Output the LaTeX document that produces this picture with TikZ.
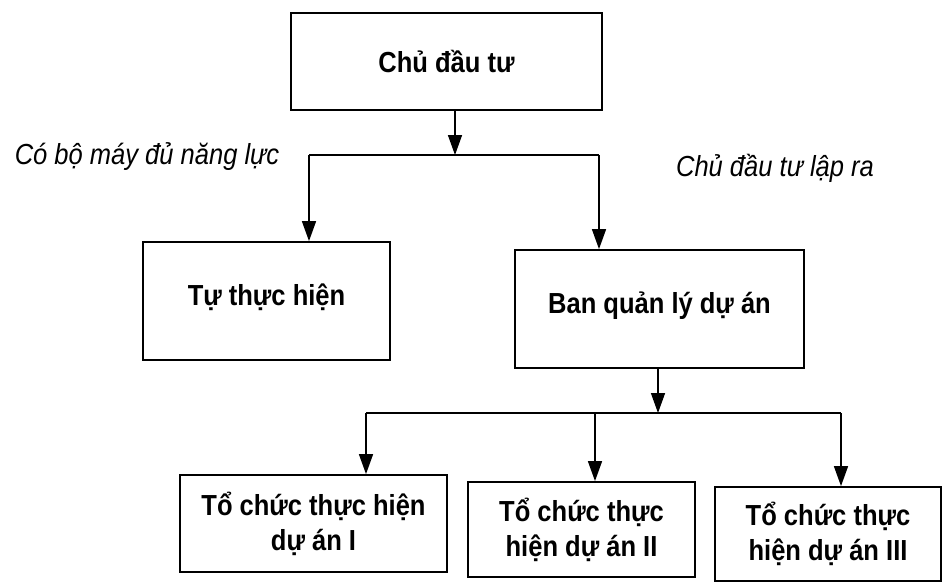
\documentclass[tikz,border=0pt]{standalone}
\usepackage{fontspec}
\setmainfont[FakeStretch=0.88]{Liberation Sans}
\usetikzlibrary{arrows.meta}
\tikzset{
  box/.style={draw, line width=1.8pt, align=center, inner sep=0pt,
    font=\fontsize{29}{35}\selectfont\bfseries},
  note/.style={font=\fontsize{29}{32}\selectfont\itshape, inner sep=0pt},
  link/.style={line width=1.5pt},
  arr/.style={link, -{Triangle[width=14pt,length=20pt]}}
}
\begin{document}
\begin{tikzpicture}[x=1pt,y=-1pt]
\useasboundingbox[fill=white] (0,0) rectangle (942,582);

% boxes
\node[box, minimum width=311pt, minimum height=97pt] (top) at (446.5,61.5) {Chủ đầu tư};
\node[box, minimum width=247pt, minimum height=118pt, text depth=12pt] (self) at (266.5,301) {Tự thực hiện};
\node[box, minimum width=289pt, minimum height=118pt, text depth=12pt] (ban) at (659.5,309) {Ban quản lý dự án};
\node[box, minimum width=267pt, minimum height=97pt] (p1) at (313.5,523.5) {Tổ chức thực hiện\\dự án I};
\node[box, minimum width=227pt, minimum height=95pt] (p2) at (581.5,529.5) {Tổ chức thực\\hiện dự án II};
\node[box, minimum width=226pt, minimum height=94pt] (p3) at (828,534) {Tổ chức thực\\hiện dự án III};

% branch labels
\node[note] (lblA) at (147,157) {Có bộ máy đủ năng lực};
\node[note] (lblB) at (775,168) {Chủ đầu tư lập ra};

% first level connectors
\coordinate (j1) at (455,155);
\coordinate (l1) at (309,155);
\coordinate (r1) at (599,155);
\draw[arr] (top.south -| j1) -- (j1);
\draw[link] (l1) -- (r1);
\draw[arr] (l1) -- (l1 |- self.north);
\draw[arr] (r1) -- (r1 |- ban.north);

% second level connectors
\coordinate (j2) at (658,413);
\coordinate (a2) at (366,413);
\coordinate (b2) at (595,413);
\coordinate (c2) at (841,413);
\draw[arr] (ban.south -| j2) -- (j2);
\draw[link] (a2) -- (c2);
\draw[arr] (a2) -- (a2 |- p1.north);
\draw[arr] (b2) -- (b2 |- p2.north);
\draw[arr] (c2) -- (c2 |- p3.north);
\end{tikzpicture}
\end{document}
